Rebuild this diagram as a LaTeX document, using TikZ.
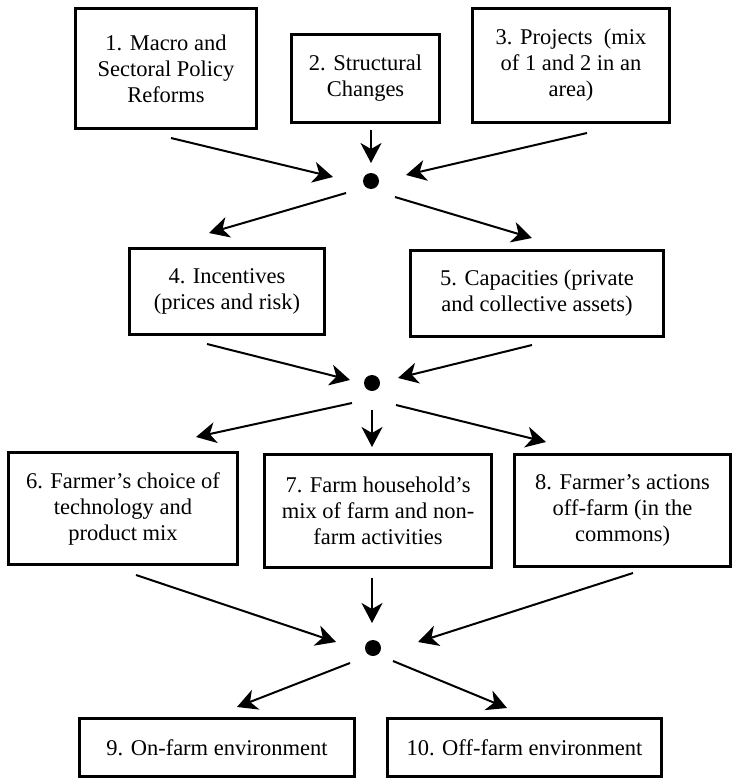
\documentclass[tikz,border=0pt]{standalone}
\usepackage{fontspec}
\setmainfont{Liberation Serif}
\usetikzlibrary{arrows.meta}
\begin{document}
\begin{tikzpicture}[x=1pt,y=-1pt,
  box/.style={draw, line width=3pt, inner sep=0pt, outer sep=0pt, align=center,
    font=\fontsize{22.5}{26}\selectfont},
  dot/.style={circle, fill=black, inner sep=0pt, minimum size=16pt},
  arr/.style={line width=2pt, -{Stealth[length=20pt,width=21pt,inset=6pt]}}]
\useasboundingbox (0,0) rectangle (733,779);
% boxes
\node[box, minimum width=181pt, minimum height=120pt] (b1) at (166,68.5) {1. Macro and\\Sectoral Policy\\Reforms};
\node[box, minimum width=148pt, minimum height=88pt] (b2) at (365.5,78.5) {2. Structural\\Changes};
\node[box, minimum width=197pt, minimum height=114pt] (b3) at (571,65.5) {3. Projects~~(mix\\of 1 and 2 in an\\area)};
\node[box, minimum width=195pt, minimum height=86pt] (b4) at (227,291.5) {4. Incentives\\(prices and risk)};
\node[box, minimum width=253pt, minimum height=86pt] (b5) at (537,293.5) {5. Capacities (private\\and collective assets)};
\node[box, minimum width=229pt, minimum height=112pt] (b6) at (123,508.5) {6. Farmer’s choice of\\technology and\\product mix};
\node[box, minimum width=227pt, minimum height=113pt] (b7) at (378,511) {7. Farm household’s\\mix of farm and non-\\farm activities};
\node[box, minimum width=216pt, minimum height=112pt] (b8) at (622.5,510.5) {8. Farmer’s actions\\off-farm (in the\\commons)};
\node[box, minimum width=275pt, minimum height=58pt] (b9) at (217,747.5) {9. On-farm environment};
\node[box, minimum width=274pt, minimum height=58pt] (b10) at (524.5,747.5) {10. Off-farm environment};
% junction dots
\node[dot] (d1) at (371,181) {};
\node[dot] (d2) at (372,383) {};
\node[dot] (d3) at (373,648) {};
% arrow end points
\coordinate (a1s) at (171,138);  \coordinate (a1e) at (333,177);
\coordinate (a2s) at (371,130);  \coordinate (a2e) at (371,163);
\coordinate (a3s) at (587,133);  \coordinate (a3e) at (406,175);
\coordinate (a4s) at (346,193);  \coordinate (a4e) at (209,233);
\coordinate (a5s) at (395,197);  \coordinate (a5e) at (532,238);
\coordinate (a6s) at (207,344);  \coordinate (a6e) at (350,380);
\coordinate (a7s) at (532,345);  \coordinate (a7e) at (398,378);
\coordinate (a8s) at (352,403);  \coordinate (a8e) at (196,437);
\coordinate (a9s) at (372,410);  \coordinate (a9e) at (372,447);
\coordinate (a10s) at (396,405); \coordinate (a10e) at (546,442);
\coordinate (a11s) at (136,575); \coordinate (a11e) at (336,642);
\coordinate (a12s) at (372,578); \coordinate (a12e) at (372,623);
\coordinate (a13s) at (633,573); \coordinate (a13e) at (418,642);
\coordinate (a14s) at (350,663); \coordinate (a14e) at (237,707);
\coordinate (a15s) at (393,661); \coordinate (a15e) at (507,708);
% arrows
\foreach \i in {1,...,15} {\draw[arr] (a\i s) -- (a\i e);}
\end{tikzpicture}
\end{document}
